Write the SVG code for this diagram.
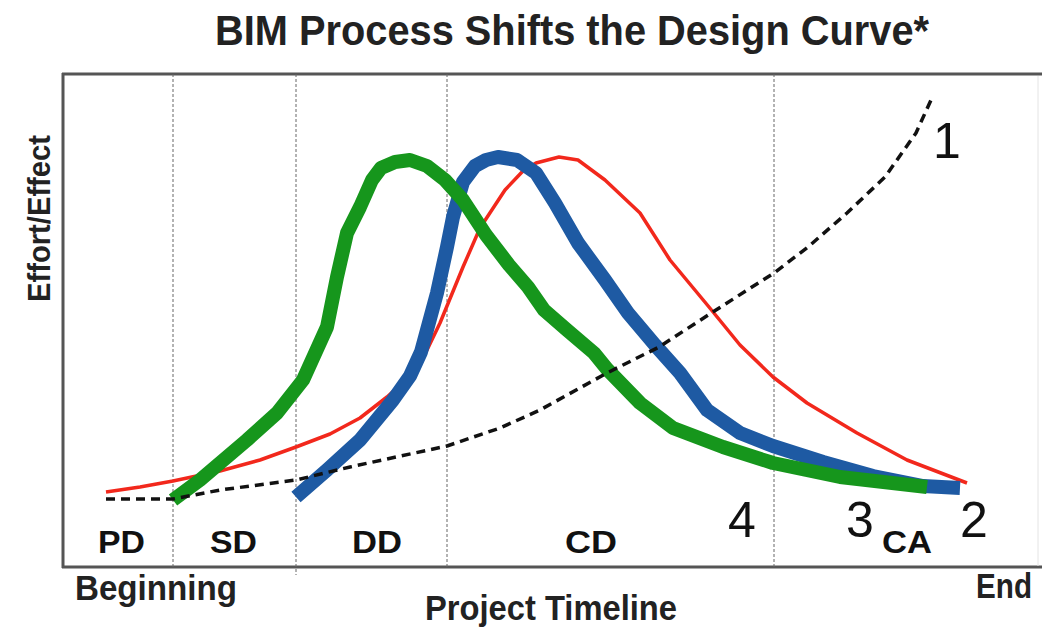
<svg xmlns="http://www.w3.org/2000/svg" width="1042" height="628" viewBox="0 0 1042 628">
  <style>
    .cond { font-family: "Liberation Sans Narrow", "Liberation Sans", Arial, sans-serif; font-weight: bold; fill: #222; }
    .phase { font-family: "Liberation Sans", Arial, sans-serif; font-weight: bold; font-size: 31px; fill: #111; }
    .num { font-family: "Liberation Sans", Arial, sans-serif; font-size: 50px; fill: #111; }
    .frame { stroke: #555; stroke-width: 3; fill: none; }
    .divider { stroke: #666; stroke-width: 1; stroke-dasharray: 3 2; fill: none; }
    .curve { fill: none; stroke-linejoin: round; stroke-linecap: butt; }
  </style>

  <rect width="1042" height="628" fill="#fff"/>

  <!-- title -->
  <text class="cond" x="215" y="45" font-size="43" textLength="714" lengthAdjust="spacingAndGlyphs">BIM Process Shifts the Design Curve*</text>

  <!-- chart frame -->
  <g id="frame">
    <line class="frame" x1="62" y1="74" x2="1042" y2="74"/>
    <line class="frame" x1="63" y1="73" x2="63" y2="568"/>
    <line class="frame" x1="62" y1="567" x2="1042" y2="567"/>
    <line x1="1038" y1="76" x2="1038" y2="566" stroke="#e4e4e4" stroke-width="1"/>
  </g>

  <!-- phase dividers -->
  <g id="dividers">
    <line class="divider" x1="173" y1="74" x2="173" y2="567"/>
    <line class="divider" x1="296" y1="74" x2="296" y2="575"/>
    <line class="divider" x1="447" y1="74" x2="447" y2="567"/>
    <line class="divider" x1="774" y1="74" x2="774" y2="567"/>
  </g>

  <!-- axis labels -->
  <text class="cond" transform="translate(50 302) rotate(-90)" x="0" y="0" font-size="32" textLength="167" lengthAdjust="spacingAndGlyphs">Effort/Effect</text>
  <text class="cond" x="75" y="600" font-size="35" textLength="162" lengthAdjust="spacingAndGlyphs">Beginning</text>
  <text class="cond" x="425" y="620" font-size="35" textLength="252" lengthAdjust="spacingAndGlyphs">Project Timeline</text>
  <text class="cond" x="976" y="598" font-size="35" textLength="56" lengthAdjust="spacingAndGlyphs">End</text>

  <!-- phase names -->
  <g id="phases">
    <text class="phase" x="98" y="553" textLength="47" lengthAdjust="spacingAndGlyphs">PD</text>
    <text class="phase" x="210" y="553" textLength="47" lengthAdjust="spacingAndGlyphs">SD</text>
    <text class="phase" x="352" y="553" textLength="50" lengthAdjust="spacingAndGlyphs">DD</text>
    <text class="phase" x="565" y="553" textLength="52" lengthAdjust="spacingAndGlyphs">CD</text>
    <text class="phase" x="882" y="553" textLength="50" lengthAdjust="spacingAndGlyphs">CA</text>
  </g>

  <!-- curves -->
  <g id="connectors">
    <!-- 2: traditional design effort -->
    <polyline id="curve-red" class="curve" stroke="#f2281c" stroke-width="3.5"
      points="106,492 140,487 173,481 220,471 260,460 296,447 330,434 360,418 387,397 410,376 427,350 440,323 463,267 480,228 505,190 522,172 536,163 559,157 578,160 605,180 640,213 670,260 709,307 740,345 773,377 807,403 857,433 907,460 967,483"/>
    <!-- 3: blue curve -->
    <polyline id="curve-blue" class="curve" stroke="#1e5aa3" stroke-width="14"
      points="296,497 327,470 360,440 393,400 410,376 421,352 437,293 447,247 453,217 463,182 475,166 486,160 498,157 517,160 536,173 555,203 578,243 605,280 628,313 655,345 680,373 707,410 740,433 773,446 823,462 873,476 923,486 960,488"/>
    <!-- 4: green curve -->
    <polyline id="curve-green" class="curve" stroke="#16961c" stroke-width="14"
      points="173,500 200,480 247,440 277,413 303,380 327,327 337,277 347,233 360,207 372,180 381,168 395,162 410,160 427,166 445,180 463,200 486,235 509,265 528,287 544,310 567,330 594,353 607,369 640,403 673,428 723,447 773,463 840,477 927,487"/>
    <!-- 1: dashed curve -->
    <polyline id="curve-dashed" class="curve" stroke="#111" stroke-width="3.5" stroke-dasharray="9 6"
      points="106,499 173,499 220,490 296,480 350,467 447,446 500,428 540,410 607,373 659,347 716,310 774,273 808,247 847,213 885,177 916,133 931,100"/>
  </g>

  <!-- curve numbers -->
  <g id="labels">
    <text class="num" x="933" y="158">1</text>
    <text class="num" x="960" y="537">2</text>
    <text class="num" x="846" y="537">3</text>
    <text class="num" x="728" y="537">4</text>
  </g>
</svg>
